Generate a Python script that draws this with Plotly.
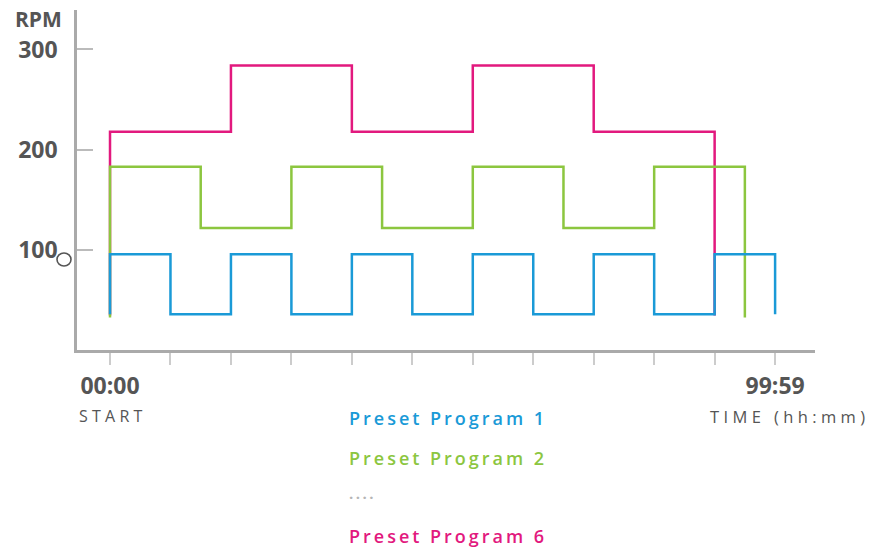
import plotly.graph_objects as go

# ---- data ----
tick_positions = [0, 1, 2, 3, 4, 5, 6, 7, 8, 9, 10, 11]
tick_labels = ["00:00", "", "", "", "", "", "", "", "", "", "", "99:59"]
rpm_ticks = [100, 200, 300]

p1_time = [0, 0, 1, 2, 3, 4, 5, 6, 7, 8, 9, 10, 11]
p1_rpm = [36, 96, 36, 96, 36, 96, 36, 96, 36, 96, 36, 96, 36]

p2_time = [0, 0, 1.5, 3, 4.5, 6, 7.5, 9, 10.5]
p2_rpm = [33, 183, 122, 183, 122, 183, 122, 183, 33]

p6_time = [0, 0, 2, 4, 6, 8, 10]
p6_rpm = [35, 218, 284, 218, 284, 218, 35]

names = ["Preset Program 1", "Preset Program 2", "Preset Program 6"]
colors = ["#1a9ad7", "#8cc63f", "#e2197e"]

W, H = 882, 550
PL, PR, PT, PB = 77, 815, 10, 350  # plot area in px
L, R, T, B = PL, W - PR, PT, H - PB
PW, PH = PR - PL, PB - PT


def px(x):
    return (x - PL) / PW


def py(y):
    return (PB - y) / PH


def spaced(s, sep="\u2009"):
    return sep.join(ch if ch != " " else "\u00a0" for ch in s)


fig = go.Figure()
series = [(p6_time, p6_rpm, 2), (p2_time, p2_rpm, 1), (p1_time, p1_rpm, 0)]
for t, r, i in series:
    fig.add_trace(go.Scatter(x=t, y=r, mode="lines", line_shape="hv",
                             line=dict(color=colors[i], width=2.5),
                             name=names[i], hoverinfo="skip"))

gray = "#555555"
fig.update_layout(
    width=W, height=H,
    margin=dict(l=L, r=R, t=T, b=B, pad=0),
    plot_bgcolor="white", paper_bgcolor="white",
    showlegend=False,
    font=dict(family="Open Sans", color=gray),
    xaxis=dict(range=[-0.546, 11.66], showgrid=False, zeroline=False,
               showline=True, linecolor="#aaaaaa", linewidth=2.5,
               tickmode="array", tickvals=tick_positions, ticktext=tick_labels,
               ticks="outside", ticklen=12, tickcolor="#cccccc", tickwidth=1.5,
               tickfont=dict(family="Open Sans", size=23, color=gray, weight="bold"),
               ticklabelstandoff=2),
    yaxis=dict(range=[0.5, 339.3], showgrid=False, zeroline=False,
               showline=True, linecolor="#aaaaaa", linewidth=2.5,
               tickmode="array", tickvals=rpm_ticks,
               ticks="inside", ticklen=16, tickcolor="#bbbbbb", tickwidth=1.5,
               tickfont=dict(family="Open Sans", size=23, color=gray, weight="bold"),
               ticklabelstandoff=12),
)

ann = []
ann.append(dict(text="RPM", x=px(38), y=py(19), xanchor="center", yanchor="middle",
                font=dict(size=21, color=gray, weight="bold")))
ann.append(dict(text=spaced("START", "\u2009\u200a"), x=px(77), y=py(416), xanchor="left",
                yanchor="middle", font=dict(size=16, color=gray)))
ann.append(dict(text=spaced("TIME (hh:mm)", "\u2009\u200a"), x=px(867), y=py(416), xanchor="right",
                yanchor="middle", font=dict(size=16.5, color=gray)))
leg_y = [418, 458, 536]
for i in range(3):
    ann.append(dict(text=spaced(names[i]), x=px(347), y=py(leg_y[i]), xanchor="left",
                    yanchor="middle", font=dict(size=18, color=colors[i], weight=600)))
ann.append(dict(text=spaced("....", "\u2009"), x=px(347), y=py(493), xanchor="left",
                yanchor="middle", font=dict(size=15, color="#b5b5b5", weight="bold")))
for a in ann:
    a.update(xref="paper", yref="paper", showarrow=False)
fig.update_layout(annotations=ann)

fig.add_shape(type="circle", xref="paper", yref="paper",
              x0=px(57), x1=px(71), y0=py(253), y1=py(266),
              line=dict(color=gray, width=1.6))

fig.write_html("out.html",
               config={"displayModeBar": False},
               post_script="document.body.style.margin='0px';"
                           "document.body.style.overflow='hidden';")
